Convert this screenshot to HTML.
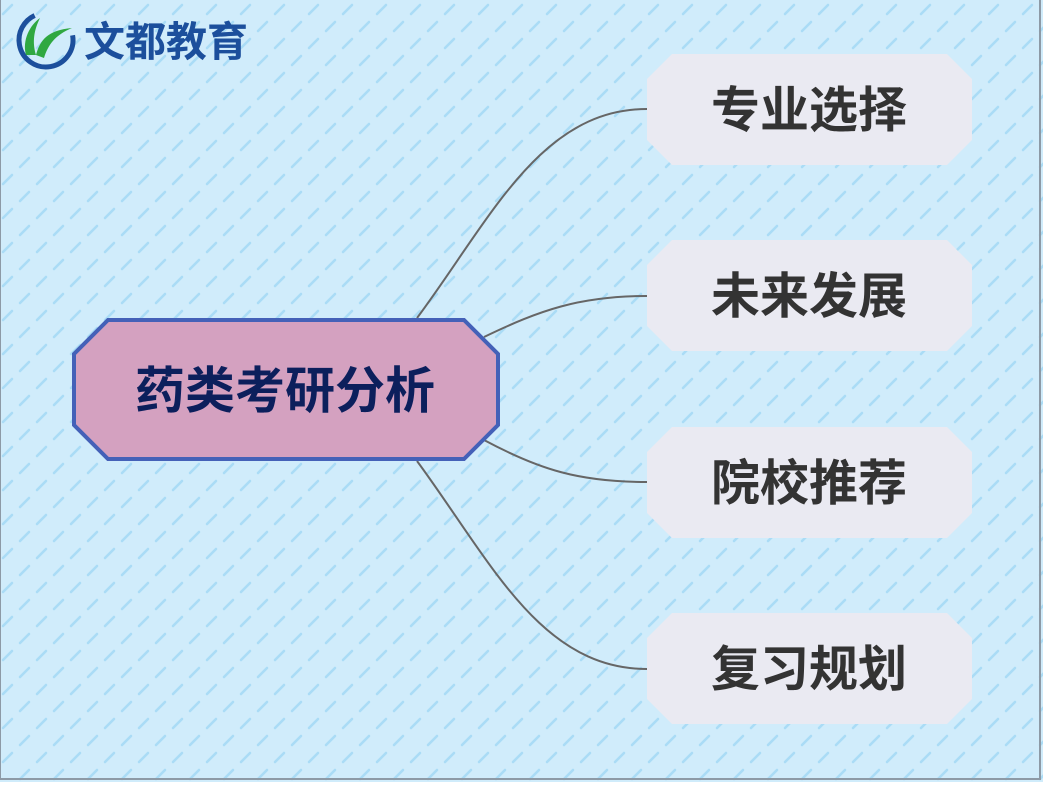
<!DOCTYPE html>
<html><head><meta charset="utf-8"><style>
body{margin:0;width:1043px;height:782px;overflow:hidden;font-family:"Liberation Sans","Noto Sans CJK SC",sans-serif;}
svg text{font-family:"Liberation Sans","Noto Sans CJK SC",sans-serif;font-weight:bold;}
</style></head><body>
<svg width="1043" height="782" xmlns="http://www.w3.org/2000/svg">
<defs>
<pattern id="p" width="34" height="34" patternUnits="userSpaceOnUse">
<rect width="34" height="34" fill="#d0ecfb"/>
<path d="M3 14 L12 5 M20 31 L29 22" stroke="#aadcf6" stroke-width="2.6" stroke-linecap="round"/>
</pattern>
</defs>
<rect width="1043" height="782" fill="url(#p)"/>
<path d="M0 0 V779 H1040 V0" fill="none" stroke="#8d9aa6" stroke-width="2"/>
<circle cx="46" cy="40" r="27" fill="none" stroke="#1c4f9c" stroke-width="5" stroke-dasharray="120 50" transform="rotate(-10 46 40)"/>
<path d="M26 55 C22 40 30 25 40 18 C34 30 32 42 36 55 Z" fill="#2fa841"/>
<path d="M36 55 C40 40 48 30 72 28 C55 35 48 45 44 58 Z" fill="#2fa841"/>
<text x="84" y="56" font-size="41" fill="#1c4f9c">文都教育</text>
<g fill="none" stroke="#666" stroke-width="2">
<path d="M417 318 C490 220 540 109 647 109"/>
<path d="M484 337 C540 310 580 296 647 296"/>
<path d="M484 440 C540 470 580 482 647 482"/>
<path d="M417 461 C490 560 540 669 647 669"/>
</g>
<polygon points="108,320 464,320 498,354 498,425 464,459 108,459 74,425 74,354" fill="#d4a1c0" stroke="#4461b8" stroke-width="4"/>
<text x="285" y="408" font-size="50" fill="#0c1f5c" text-anchor="middle">药类考研分析</text>
<g fill="#eaeaf2">
<polygon points="672,54 947,54 972,79 972,140 947,165 672,165 647,140 647,79"/>
<polygon points="672,240 947,240 972,265 972,326 947,351 672,351 647,326 647,265"/>
<polygon points="672,427 947,427 972,452 972,513 947,538 672,538 647,513 647,452"/>
<polygon points="672,613 947,613 972,638 972,699 947,724 672,724 647,699 647,638"/>
</g>
<g font-size="49" fill="#333" text-anchor="middle">
<text x="809" y="127">专业选择</text>
<text x="809" y="313">未来发展</text>
<text x="809" y="500">院校推荐</text>
<text x="809" y="686">复习规划</text>
</g>
</svg>
</body></html>
